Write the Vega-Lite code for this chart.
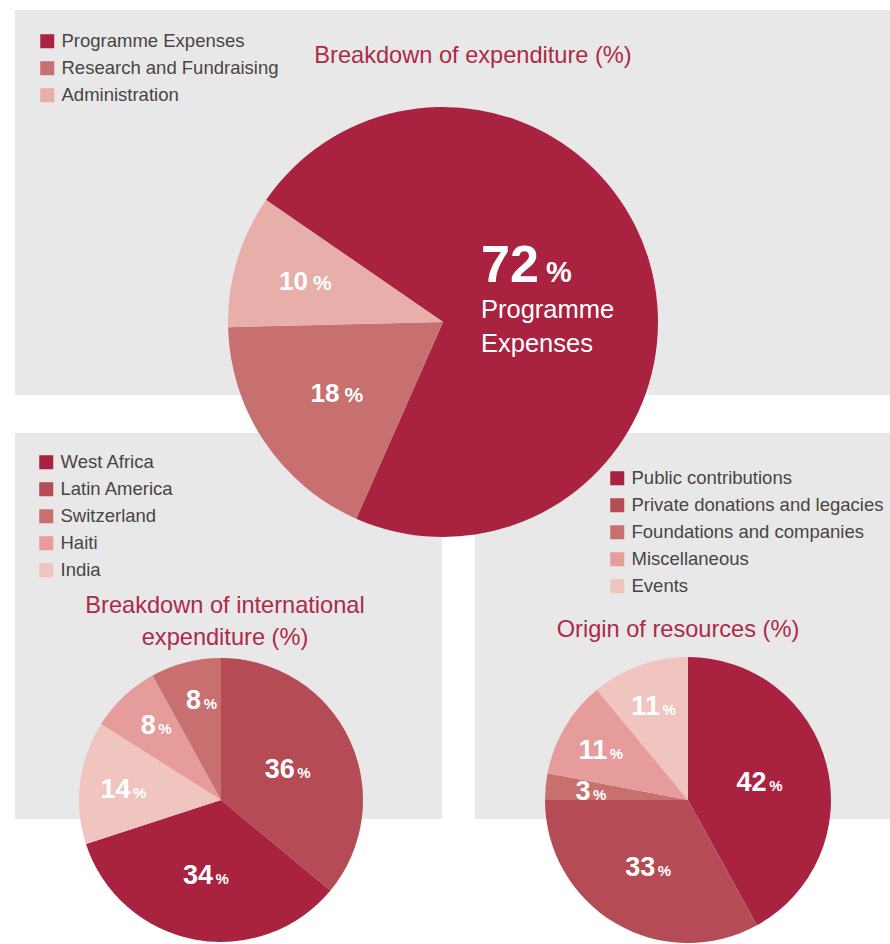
{
  "$schema": "https://vega.github.io/schema/vega-lite/v6.json",
  "width": 890,
  "height": 944,
  "padding": 0,
  "autosize": {"type": "none"},
  "background": "white",
  "config": {
    "view": {"stroke": null},
    "font": "Liberation Sans",
    "text": {"font": "Liberation Sans"},
    "legend": {
      "symbolType": "square",
      "symbolSize": 196,
      "symbolStrokeWidth": 0,
      "labelFontSize": 18.5,
      "labelFont": "Liberation Sans",
      "labelColor": "#4a4444",
      "rowPadding": 8,
      "labelOffset": 5,
      "padding": 0,
      "labelLimit": 400
    }
  },
  "datasets": {
    "expenditure": [
      {"category": "Programme Expenses", "value": 72, "k": 1},
      {"category": "Research and Fundraising", "value": 18, "k": 2},
      {"category": "Administration", "value": 10, "k": 3}
    ],
    "international": [
      {"category": "Latin America", "value": 36, "k": 1},
      {"category": "West Africa", "value": 34, "k": 2},
      {"category": "India", "value": 14, "k": 3},
      {"category": "Haiti", "value": 8, "k": 4},
      {"category": "Switzerland", "value": 8, "k": 5}
    ],
    "resources": [
      {"category": "Public contributions", "value": 42, "k": 1},
      {"category": "Private donations and legacies", "value": 33, "k": 2},
      {"category": "Foundations and companies", "value": 3, "k": 3},
      {"category": "Miscellaneous", "value": 11, "k": 4},
      {"category": "Events", "value": 11, "k": 5}
    ],
    "titles": [
      {"t": "Breakdown of expenditure (%)", "panel": "top"},
      {"t": "Breakdown of international|expenditure (%)", "panel": "left"},
      {"t": "Origin of resources (%)", "panel": "right"}
    ]
  },
  "resolve": {
    "scale": {"theta": "independent", "color": "independent", "radius": "independent"},
    "legend": {"color": "independent"}
  },
  "layer": [
    {"data": {"values": [{}]}, "mark": {"type": "rect", "x": 15, "x2": 890, "y": 10, "y2": 395, "fill": "#e8e8e8"}, "encoding": {}},
    {"data": {"values": [{}]}, "mark": {"type": "rect", "x": 15, "x2": 442, "y": 433, "y2": 819, "fill": "#e8e8e8"}, "encoding": {}},
    {"data": {"values": [{}]}, "mark": {"type": "rect", "x": 475, "x2": 890, "y": 433, "y2": 819, "fill": "#e8e8e8"}, "encoding": {}},
    {
      "data": {"name": "titles"},
      "transform": [{"filter": "datum.panel == 'top'"}],
      "mark": {"type": "text", "x": 473, "y": 63, "align": "center", "baseline": "alphabetic", "fontSize": 23.6, "fill": "#ad2a48"},
      "encoding": {"text": {"field": "t"}}
    },
    {
      "data": {"name": "titles"},
      "transform": [{"filter": "datum.panel == 'left'"}],
      "mark": {"type": "text", "x": 225, "y": 613, "align": "center", "baseline": "alphabetic", "fontSize": 23.6, "fill": "#ad2a48", "lineBreak": "|", "lineHeight": 32},
      "encoding": {"text": {"field": "t"}}
    },
    {
      "data": {"name": "titles"},
      "transform": [{"filter": "datum.panel == 'right'"}],
      "mark": {"type": "text", "x": 678, "y": 637, "align": "center", "baseline": "alphabetic", "fontSize": 23.6, "fill": "#ad2a48"},
      "encoding": {"text": {"field": "t"}}
    },
    {
      "data": {"name": "expenditure"},
      "layer": [
        {
          "mark": {"type": "arc", "x": 443, "y": 322, "outerRadius": 215},
          "encoding": {
            "theta": {"field": "value", "type": "quantitative", "stack": true, "scale": {"range": [-0.9669, 5.3163]}},
            "color": {
              "field": "category", "type": "nominal",
              "scale": {"domain": ["Programme Expenses", "Research and Fundraising", "Administration"], "range": ["#a92340", "#c86f70", "#e8aeaa"]},
              "legend": {"orient": "none", "legendX": 38, "legendY": 32, "title": null}
            },
            "order": {"field": "k", "type": "quantitative"}
          }
        },
        {
          "mark": {"type": "text", "x": 443, "y": 322, "align": "right", "baseline": "alphabetic", "dx": 2, "dy": 9, "fontSize": 26, "fontWeight": "bold", "fill": "white"},
          "encoding": {
            "theta": {"field": "value", "type": "quantitative", "stack": true, "scale": {"range": [-0.9669, 5.3163]}},
            "radius": {"field": "value", "type": "quantitative", "scale": {"type": "linear", "zero": false, "clamp": true, "domain": [10, 18], "range": [143, 127]}},
            "text": {"condition": {"test": "datum.value > 50", "value": ""}, "field": "value", "type": "quantitative"},
            "order": {"field": "k", "type": "quantitative"}
          }
        },
        {
          "mark": {"type": "text", "x": 443, "y": 322, "align": "left", "baseline": "alphabetic", "dx": 7, "dy": 9, "fontSize": 21, "fontWeight": "bold", "fill": "white"},
          "encoding": {
            "theta": {"field": "value", "type": "quantitative", "stack": true, "scale": {"range": [-0.9669, 5.3163]}},
            "radius": {"field": "value", "type": "quantitative", "scale": {"type": "linear", "zero": false, "clamp": true, "domain": [10, 18], "range": [143, 127]}},
            "text": {"condition": {"test": "datum.value > 50", "value": ""}, "value": "%"},
            "order": {"field": "k", "type": "quantitative"}
          }
        },
        {
          "transform": [{"filter": "datum.value > 50"}],
          "mark": {"type": "text", "x": 481, "y": 282, "align": "left", "baseline": "alphabetic", "fontSize": 52, "fontWeight": "bold", "fill": "white"},
          "encoding": {"text": {"field": "value", "type": "quantitative"}}
        },
        {
          "transform": [{"filter": "datum.value > 50"}],
          "mark": {"type": "text", "x": 546, "y": 282, "align": "left", "baseline": "alphabetic", "fontSize": 29, "fontWeight": "bold", "fill": "white", "text": "%"},
          "encoding": {}
        },
        {
          "transform": [{"filter": "datum.value > 50"}],
          "mark": {"type": "text", "x": 481, "y": 318, "align": "left", "baseline": "alphabetic", "fontSize": 25.5, "fill": "white", "lineBreak": " ", "lineHeight": 34},
          "encoding": {"text": {"field": "category"}}
        }
      ]
    },
    {
      "data": {"name": "international"},
      "layer": [
        {
          "mark": {"type": "arc", "x": 221, "y": 800, "outerRadius": 142},
          "encoding": {
            "theta": {"field": "value", "type": "quantitative", "stack": true},
            "color": {
              "field": "category", "type": "nominal",
              "scale": {"domain": ["West Africa", "Latin America", "Switzerland", "Haiti", "India"], "range": ["#a92340", "#b54b55", "#c86f70", "#e59c9a", "#f0c4bf"]},
              "legend": {"orient": "none", "legendX": 37, "legendY": 453, "title": null}
            },
            "order": {"field": "k", "type": "quantitative"}
          }
        },
        {
          "mark": {"type": "text", "x": 221, "y": 800, "align": "right", "baseline": "alphabetic", "dx": 6, "dy": 10, "fontSize": 27, "fontWeight": "bold", "fill": "white"},
          "encoding": {
            "theta": {"field": "value", "type": "quantitative", "stack": true},
            "radius": {"field": "value", "type": "quantitative", "scale": {"type": "linear", "zero": false, "clamp": true, "domain": [8, 34], "range": [104, 75]}},
            "text": {"field": "value", "type": "quantitative"},
            "order": {"field": "k", "type": "quantitative"}
          }
        },
        {
          "mark": {"type": "text", "x": 221, "y": 800, "align": "left", "baseline": "alphabetic", "dx": 8.5, "dy": 10, "fontSize": 15, "fontWeight": "bold", "fill": "white", "text": "%"},
          "encoding": {
            "theta": {"field": "value", "type": "quantitative", "stack": true},
            "radius": {"field": "value", "type": "quantitative", "scale": {"type": "linear", "zero": false, "clamp": true, "domain": [8, 34], "range": [104, 75]}},
            "order": {"field": "k", "type": "quantitative"}
          }
        }
      ]
    },
    {
      "data": {"name": "resources"},
      "layer": [
        {
          "mark": {"type": "arc", "x": 688, "y": 800, "outerRadius": 143},
          "encoding": {
            "theta": {"field": "value", "type": "quantitative", "stack": true},
            "color": {
              "field": "category", "type": "nominal",
              "scale": {"domain": ["Public contributions", "Private donations and legacies", "Foundations and companies", "Miscellaneous", "Events"], "range": ["#a92340", "#b54b55", "#c86f70", "#e59c9a", "#f0c4bf"]},
              "legend": {"orient": "none", "legendX": 608, "legendY": 469, "title": null}
            },
            "order": {"field": "k", "type": "quantitative"}
          }
        },
        {
          "mark": {"type": "text", "x": 688, "y": 800, "align": "right", "baseline": "alphabetic", "dx": 6, "dy": 10, "fontSize": 27, "fontWeight": "bold", "fill": "white"},
          "encoding": {
            "theta": {"field": "value", "type": "quantitative", "stack": true},
            "radius": {"field": "value", "type": "quantitative", "scale": {"type": "linear", "zero": false, "clamp": true, "domain": [8, 34], "range": [104, 75]}},
            "text": {"field": "value", "type": "quantitative"},
            "order": {"field": "k", "type": "quantitative"}
          }
        },
        {
          "mark": {"type": "text", "x": 688, "y": 800, "align": "left", "baseline": "alphabetic", "dx": 8.5, "dy": 10, "fontSize": 15, "fontWeight": "bold", "fill": "white", "text": "%"},
          "encoding": {
            "theta": {"field": "value", "type": "quantitative", "stack": true},
            "radius": {"field": "value", "type": "quantitative", "scale": {"type": "linear", "zero": false, "clamp": true, "domain": [8, 34], "range": [104, 75]}},
            "order": {"field": "k", "type": "quantitative"}
          }
        }
      ]
    }
  ]
}
